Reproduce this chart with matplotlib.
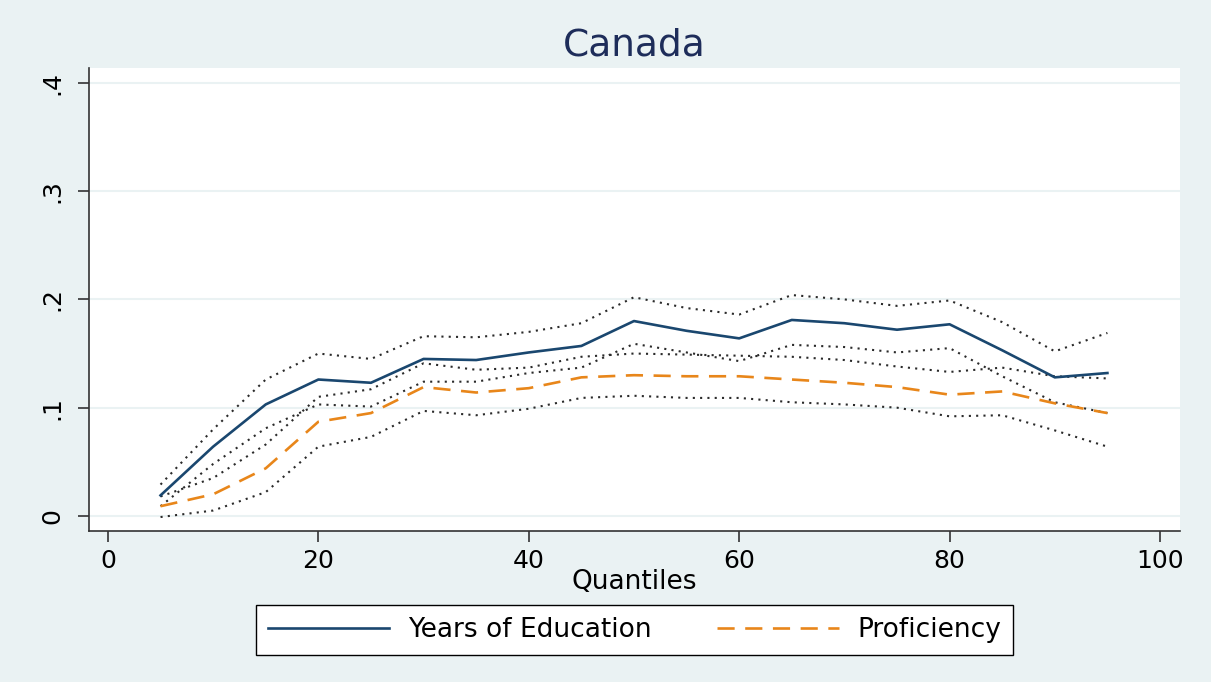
import matplotlib
matplotlib.use("Agg")
import matplotlib.pyplot as plt

# quantile estimates
quantiles = [5, 10, 15, 20, 25, 30, 35, 40, 45, 50, 55, 60, 65, 70, 75, 80, 85, 90, 95]
educ = [0.019, 0.064, 0.103, 0.126, 0.123, 0.145, 0.144, 0.151, 0.157, 0.180,
        0.171, 0.164, 0.181, 0.178, 0.172, 0.177, 0.153, 0.128, 0.132]
educ_hi = [0.029, 0.080, 0.126, 0.150, 0.145, 0.166, 0.165, 0.170, 0.178, 0.202,
           0.192, 0.186, 0.204, 0.200, 0.194, 0.199, 0.179, 0.152, 0.169]
educ_lo = [0.009, 0.048, 0.081, 0.103, 0.101, 0.124, 0.124, 0.132, 0.137, 0.159,
           0.151, 0.143, 0.158, 0.156, 0.151, 0.155, 0.129, 0.105, 0.095]
prof = [0.009, 0.020, 0.044, 0.087, 0.095, 0.119, 0.114, 0.118, 0.128, 0.130,
        0.129, 0.129, 0.126, 0.123, 0.119, 0.112, 0.115, 0.104, 0.095]
prof_hi = [0.018, 0.035, 0.066, 0.110, 0.117, 0.141, 0.135, 0.137, 0.147, 0.150,
           0.149, 0.148, 0.147, 0.144, 0.138, 0.133, 0.137, 0.129, 0.127]
prof_lo = [-0.001, 0.005, 0.022, 0.064, 0.073, 0.097, 0.093, 0.099, 0.109, 0.111,
           0.109, 0.109, 0.105, 0.103, 0.100, 0.092, 0.093, 0.079, 0.064]

xticks = [0, 20, 40, 60, 80, 100]
yticks = [0, 0.1, 0.2, 0.3, 0.4]
ytick_labels = ["0", ".1", ".2", ".3", ".4"]

bg = "#EAF2F3"
navy = "#1A476F"
orange = "#E8861A"

plt.rcParams["font.family"] = ["DejaVu Sans"]

W, H = 1211, 682
fig = plt.figure(figsize=(W / 100, H / 100), dpi=100, facecolor=bg)
ax = fig.add_axes([89 / W, (H - 531) / H, (1180 - 89) / W, (531 - 68) / H])
ax.set_facecolor("white")

dots = dict(color="#2a2a2a", lw=1.5, linestyle=(0, (1, 2.5)))
for band in (educ_hi, educ_lo, prof_hi, prof_lo):
    ax.plot(quantiles, band, **dots)
ax.plot(quantiles, educ, color=navy, lw=1.9, label="Years of Education")
ax.plot(quantiles, prof, color=orange, lw=1.9, linestyle=(0, (6.5, 4)), label="Proficiency")

ax.set_xlim(-1.8, 101.9)
ax.set_ylim(-0.0139, 0.4137)
ax.set_xticks(xticks)
ax.set_yticks(yticks)
ax.set_yticklabels(ytick_labels, rotation=90, va="center")
ax.grid(axis="y", color=bg, lw=1.5)
ax.set_axisbelow(True)
for s in ("top", "right"):
    ax.spines[s].set_visible(False)
for s in ("left", "bottom"):
    ax.spines[s].set_color("#333333")
    ax.spines[s].set_linewidth(1.2)
ax.tick_params(axis="both", length=8, width=1.2, color="#333333", labelsize=18)
ax.tick_params(axis="x", pad=5)
ax.tick_params(axis="y", pad=10)

ax.set_xlabel("Quantiles", fontsize=19, labelpad=-3)
ax.set_title("Canada", fontsize=27, color="#1E2D5A", pad=9)

fig.legend(loc="center", bbox_to_anchor=(634.5 / W, 1 - 630 / H), ncol=2,
           fontsize=19, frameon=True, fancybox=False, edgecolor="black",
           framealpha=1, handlelength=4.6, handletextpad=0.7, columnspacing=2.5,
           borderpad=0.45)

fig.savefig("out.png", dpi=100, facecolor=bg)
